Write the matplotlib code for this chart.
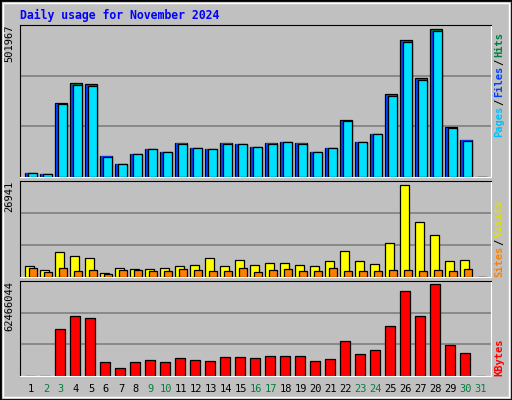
import matplotlib.pyplot as plt
from matplotlib.patches import Rectangle

days = list(range(1, 32))
hits = [14763, 11357, 253261, 317996, 314588, 72685, 45428, 79499, 96535, 86313,
        116977, 99942, 96535, 116977, 113570, 103349, 116977, 120384, 116977, 86313,
        99942, 195340, 120384, 147641, 280518, 464506, 335032, 501967, 171491, 127198, 0]
files = [12500, 9800, 248000, 314000, 311000, 70000, 43500, 77000, 94000, 84000,
         114000, 97500, 94000, 114000, 111000, 101000, 114000, 118000, 114000, 84000,
         97500, 192000, 118000, 145000, 276000, 460000, 331000, 497000, 168000, 124500, 0]
pages = [12000, 9500, 247000, 313000, 310500, 69500, 43000, 76500, 93500, 83500,
         113500, 97000, 93500, 113500, 110500, 100500, 113500, 117500, 113500, 83500,
         97000, 191500, 117500, 144500, 275500, 459000, 330000, 496000, 167500, 124000, 0]
visits = [3112, 1945, 7392, 6225, 5641, 1264, 2529, 2237, 2237, 2529,
          3112, 3404, 5641, 3112, 4863, 3404, 3988, 3988, 3404, 3112,
          4571, 7684, 4571, 3696, 9823, 26941, 16145, 12352, 4571, 4863, 0]
sites = [2529, 1556, 2529, 1653, 1945, 973, 1945, 1945, 1653, 1653,
         2237, 1945, 1653, 1653, 2529, 1362, 1945, 2237, 1653, 1653,
         2529, 1653, 1653, 1653, 1945, 1945, 1653, 1945, 1653, 2237, 0]
kbytes = [300000, 300000, 31800000, 40660000, 39300000, 9310000, 5450000, 9310000, 10680000, 9310000,
          12040000, 10680000, 9990000, 12720000, 12720000, 12040000, 13400000, 13400000, 13400000, 9990000,
          11360000, 23620000, 14760000, 17490000, 33850000, 57700000, 40660000, 62466044, 20900000, 15450000, 0]
weekend = [2, 3, 9, 10, 16, 17, 23, 24, 30, 31]

W, H = 512, 400
BG = '#C0C0C0'
fig = plt.figure(figsize=(W / 100, H / 100), dpi=100, facecolor=BG)
mono = 'DejaVu Sans Mono'

def px_axes(x0, y0, x1, y1):
    return fig.add_axes([x0 / W, 1 - y1 / H, (x1 - x0) / W, (y1 - y0) / H])

# outer frame
fig.patches.append(Rectangle((0, 0), 1, 1, transform=fig.transFigure, fill=False,
                             edgecolor='black', linewidth=2))
fig.patches.append(Rectangle((3 / W, 3 / H), 1 - 6 / W, 1 - 6 / H, transform=fig.transFigure,
                             fill=False, edgecolor='white', linewidth=1))

fig.text(20 / W, 1 - 15 / H, 'Daily usage for November 2024', color='#0000FF',
         fontsize=8.3, fontweight='bold', family=mono, va='center')

panels = [(25, 177), (181, 277), (281, 376)]
xl = (0.27, 0.27 + 471 / 15)
axes = []
for (y0, y1) in panels:
    ax = px_axes(20, y0, 491, y1)
    ax.set_facecolor(BG)
    ax.set_xlim(*xl)
    ax.set_xticks([])
    ax.set_yticks([])
    for s in ['top', 'left']:
        ax.spines[s].set_color('black')
    for s in ['bottom', 'right']:
        ax.spines[s].set_color('white')
    axes.append(ax)

def draw(ax, vals, left, width, color, top):
    ax.set_ylim(0, top)
    for g in (top / 3, 2 * top / 3):
        ax.axhline(g, color='#808080', linewidth=1.2, zorder=0)
    ax.bar([d + left for d in days], vals, width=width, align='edge', color=color,
           edgecolor='black', linewidth=0.9, zorder=2)

ax1, ax2, ax3 = axes
draw(ax1, hits, -0.4, 0.8, '#008040', 516744)
ax1.bar([d - 0.33 for d in days], files, width=0.73, align='edge', color='#0040FF',
        edgecolor='none', zorder=3)
ax1.bar([d - 0.2 for d in days], pages, width=0.6, align='edge', color='#00E0FF',
        edgecolor='black', linewidth=0.9, zorder=4)
draw(ax2, visits, -0.4, 0.6, '#FFFF00', 28011)
ax2.bar([d - 0.13 for d in days], sites, width=0.53, align='edge', color='#FF8000',
        edgecolor='black', linewidth=0.9, zorder=3)
draw(ax3, kbytes, -0.4, 0.7, '#FF0000', 64737000)

for ax, lab in zip(axes, ['501967', '26941', '62466044']):
    ax.text(-6 / 471, 1.0, lab, transform=ax.transAxes, rotation=90, ha='right',
            va='top', fontsize=7.5, family=mono)

def side(y_bottom, parts):
    y = y_bottom
    for txt, col in parts:
        fig.text(499 / W, 1 - y / H, txt, color=col, rotation=90, fontsize=7.5,
                 fontweight='bold', family=mono, ha='center', va='bottom')
        y -= len(txt) * 6.0 + 2

side(137, [('Pages', '#00C0FF'), ('/', 'black'), ('Files', '#0040FF'), ('/', 'black'), ('Hits', '#008040')])
side(277, [('Sites', '#FF8000'), ('/', 'black'), ('Visits', '#E0E000')])
side(376, [('KBytes', '#FF0000')])

for d in days:
    col = '#008040' if d in weekend else 'black'
    fig.text((20 + (d - xl[0]) * 15) / W, 1 - 389 / H, str(d), color=col, fontsize=7.5,
             family=mono, ha='center', va='center')

fig.savefig('out.png', dpi=100, facecolor=BG)
